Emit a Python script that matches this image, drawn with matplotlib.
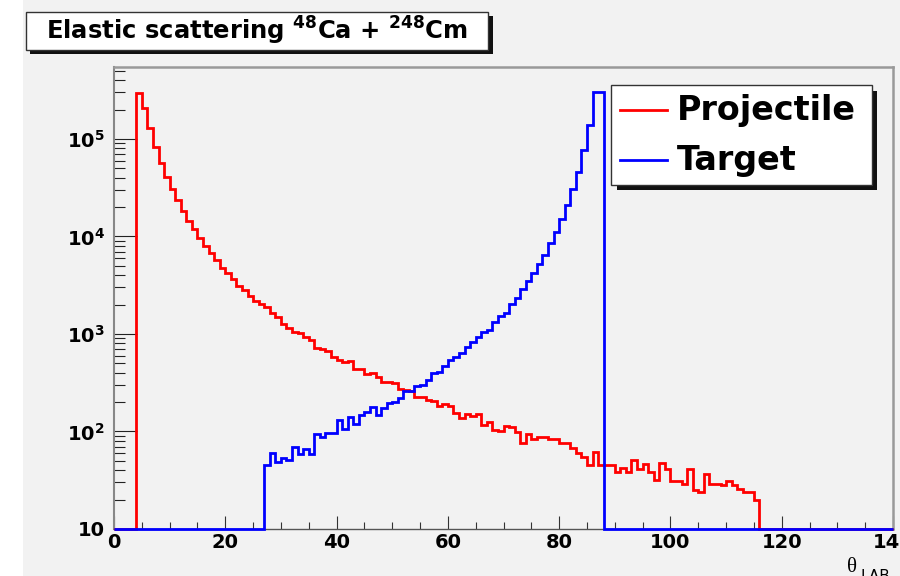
import numpy as np
import matplotlib.pyplot as plt
from matplotlib.patches import Rectangle
from matplotlib.lines import Line2D
from matplotlib.ticker import LogLocator, NullFormatter

plt.rcParams['font.family'] = 'DejaVu Sans'
plt.rcParams['font.weight'] = 'bold'
plt.rcParams['mathtext.fontset'] = 'dejavusans'

# 1-degree bins over the lab angle range
theta_edges = np.arange(0, 141, 1)

# projectile counts, first filled bin starts at 4 deg
proj_first_bin = 4
proj_counts = [
    294000, 210000, 129000, 83000, 57000, 41000, 30500, 23500, 18300, 14400,
    11900, 9600, 8000, 6700, 5700, 4800, 4200, 3700, 3100, 2800,
    2450, 2200,
    2030, 1880, 1630, 1500, 1260, 1140, 1060, 1020, 925, 870,
    715, 695, 675, 585, 540, 510, 530, 435, 435, 385,
    395, 360, 325, 325, 312,
    271, 267, 262, 228, 225, 210, 205, 184, 191, 184,
    154, 137, 151, 145, 150, 117, 126, 103, 102, 115,
    110, 98, 77, 94, 83,
    87, 87, 83, 83, 76, 76, 67, 60, 55, 45,
    61, 45, 45, 45, 38, 42, 38, 51, 41, 46,
    38, 32, 48, 41, 31,
    31, 29, 41, 25, 24, 37, 29, 29, 28, 31,
    28, 26, 24, 24, 20,
]

# target recoil counts, first filled bin starts at 27 deg
targ_first_bin = 27
targ_counts = [
    45, 60, 49, 54, 51, 69, 59, 66, 59,
    94, 88, 97, 97, 130, 106, 141, 119, 147, 157,
    177, 147, 176, 194, 202, 220, 260, 260, 292, 298,
    341, 394, 410, 469, 541, 576, 642, 728, 831, 935,
    1054, 1098, 1315, 1525, 1651, 2010, 2360, 2870, 3500, 4180,
    5190, 6520, 8500, 11100, 15000, 20800, 30800, 46000, 77000, 138000,
    306000, 306000,
]

y_min = 10
y_max = 5.47e5


def full_hist(first_bin, counts):
    h = np.zeros(len(theta_edges) - 1)
    h[first_bin:first_bin + len(counts)] = counts
    return h


proj = full_hist(proj_first_bin, proj_counts)
targ = full_hist(targ_first_bin, targ_counts)

W, H = 900, 576
bg = '#f2f2f2'
fig = plt.figure(figsize=(W / 100, H / 100), dpi=100, facecolor=bg)
fig.add_artist(Rectangle((0, 0), 23 / W, 1, transform=fig.transFigure,
                         facecolor='white', edgecolor='none', zorder=-5))

ax = fig.add_axes([114 / W, 1 - 529 / H, (893 - 114) / W, (529 - 67) / H])
ax.set_facecolor(bg)

# empty bins sit on the frame floor, like ROOT draws them
ax.stairs(np.maximum(proj, y_min), theta_edges, color='#ff0000',
          linewidth=2.0, baseline=None, clip_on=False, zorder=3)
ax.stairs(np.maximum(targ, y_min), theta_edges, color='#0000ff',
          linewidth=2.0, baseline=None, clip_on=False, zorder=4)

ax.set_xlim(0, 140)
ax.set_yscale('log')
ax.set_ylim(y_min, y_max)

ax.set_xticks(np.arange(0, 141, 20))
ax.set_xticks(np.arange(0, 141, 5), minor=True)
ax.set_yticks([10, 1e2, 1e3, 1e4, 1e5])
ax.set_yticklabels(['10', r'$\mathbf{10^{2}}$', r'$\mathbf{10^{3}}$',
                    r'$\mathbf{10^{4}}$', r'$\mathbf{10^{5}}$'])
ax.yaxis.set_minor_locator(LogLocator(base=10, subs=np.arange(2, 10)))
ax.yaxis.set_minor_formatter(NullFormatter())

ax.tick_params(axis='x', which='major', direction='in', length=9.5, width=0.8,
               color='#333333', labelsize=14, pad=3)
ax.tick_params(axis='x', which='minor', direction='in', length=5, width=0.8,
               color='#333333')
ax.tick_params(axis='y', which='major', direction='in', length=16.5, width=0.8,
               color='#222222', labelsize=14, pad=6.5)
ax.tick_params(axis='y', which='minor', direction='in', length=8, width=0.8,
               color='#222222')

for side in ['top', 'right']:
    ax.spines[side].set_color('#999999')
    ax.spines[side].set_linewidth(1.8)
ax.spines['left'].set_color('#888888')
ax.spines['left'].set_linewidth(1.5)
ax.spines['bottom'].set_color('#555555')
ax.spines['bottom'].set_linewidth(1.0)


def px_rect(x0, y0, x1, y1, **kw):
    return Rectangle((x0 / W, 1 - y1 / H), (x1 - x0) / W, (y1 - y0) / H,
                     transform=fig.transFigure, **kw)


# title box with drop shadow
fig.add_artist(px_rect(30, 16, 493, 54, facecolor='#111111', edgecolor='none', zorder=5))
fig.add_artist(px_rect(26, 12, 488, 50, facecolor='white', edgecolor='#333333',
                       linewidth=1.0, zorder=6))
fig.text(257 / W, 1 - 31 / H,
         r'Elastic scattering $^{\mathbf{48}}$Ca + $^{\mathbf{248}}$Cm',
         ha='center', va='center', fontsize=17.5, fontweight='bold', zorder=7)

# legend box with drop shadow
fig.add_artist(px_rect(617, 91, 877, 190, facecolor='#111111', edgecolor='none', zorder=5))
fig.add_artist(px_rect(611, 85, 872, 185, facecolor='white', edgecolor='#333333',
                       linewidth=1.0, zorder=6))
legend_items = [('Projectile', '#ff0000', 110), ('Target', '#0000ff', 160)]
for name, col, yy in legend_items:
    fig.add_artist(Line2D([620 / W, 667 / W], [1 - yy / H, 1 - yy / H],
                          transform=fig.transFigure, color=col, linewidth=2.0, zorder=7))
    fig.text(677 / W, 1 - (yy + 10) / H, name, ha='left', va='baseline',
             fontsize=24, fontweight='bold', zorder=7)

# axis title in the lower right corner
fig.text(847 / W, 1 - 572 / H, 'θ', family='Liberation Serif', fontweight='normal',
         fontsize=15, ha='left', va='baseline')
fig.text(861 / W, 1 - 569 / H, 'LAB', fontsize=11, fontweight='normal',
         ha='left', va='top')

fig.savefig('out.png', dpi=100, facecolor=bg)
